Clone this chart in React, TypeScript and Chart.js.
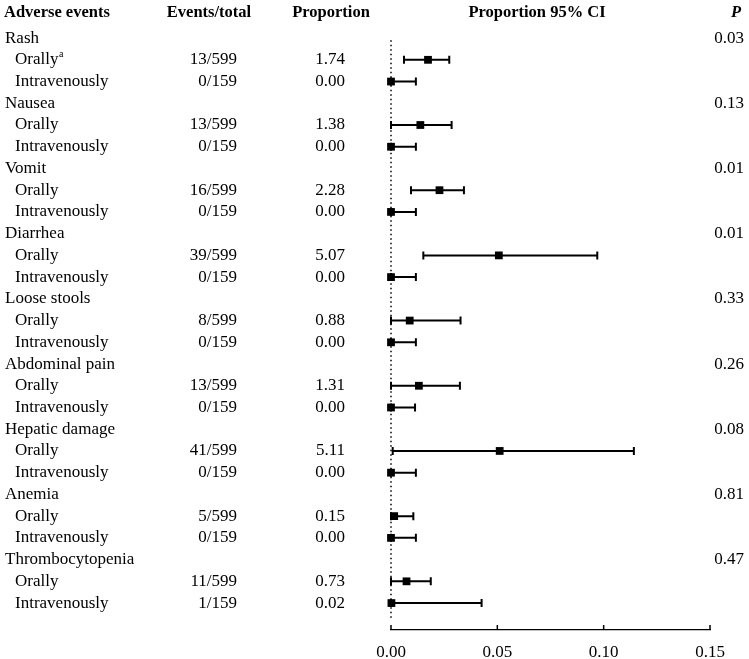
import React, { useEffect, useRef } from "react";
import { Chart, registerables } from "chart.js";

Chart.register(...registerables);

const categories = [
  "Rash",
  "Nausea",
  "Vomit",
  "Diarrhea",
  "Loose stools",
  "Abdominal pain",
  "Hepatic damage",
  "Anemia",
  "Thrombocytopenia",
];
const pValues = ["0.03", "0.13", "0.01", "0.01", "0.33", "0.26", "0.08", "0.81", "0.47"];
const oralEvents = ["13/599", "13/599", "16/599", "39/599", "8/599", "13/599", "41/599", "5/599", "11/599"];
const ivEvents = ["0/159", "0/159", "0/159", "0/159", "0/159", "0/159", "0/159", "0/159", "1/159"];
const oralProp = ["1.74", "1.38", "2.28", "5.07", "0.88", "1.31", "5.11", "0.15", "0.73"];
const ivProp = ["0.00", "0.00", "0.00", "0.00", "0.00", "0.00", "0.00", "0.00", "0.02"];
const oralEst = [0.0174, 0.0138, 0.0228, 0.0507, 0.0088, 0.0131, 0.0511, 0.0015, 0.0073];
const oralLow = [0.0061, 0.0, 0.0094, 0.0152, 0.0, 0.0, 0.0008, 0.0, 0.0];
const oralHigh = [0.0274, 0.0285, 0.0343, 0.097, 0.0327, 0.0324, 0.1142, 0.0105, 0.0187];
const ivEst = [0, 0, 0, 0, 0, 0, 0, 0, 0.0002];
const ivLow = [0, 0, 0, 0, 0, 0, 0, 0, 0];
const ivHigh = [0.0117, 0.0117, 0.0117, 0.0117, 0.0117, 0.0113, 0.0117, 0.0117, 0.0426];
const xTicks = [0, 0.05, 0.1, 0.15];

const FONT = '"Liberation Serif", "Times New Roman", serif';
const SIZE = 17;
const HSIZE = 16.5;

export default function App() {
  const ref = useRef<HTMLCanvasElement>(null);

  useEffect(() => {
    const canvas = ref.current;
    if (!canvas) return;

    const points: { x: number; y: number }[] = [];
    const bars: { lo: number; hi: number; row: number }[] = [];
    categories.forEach((_, i) => {
      points.push({ x: oralEst[i], y: 3 * i + 1 });
      points.push({ x: ivEst[i], y: 3 * i + 2 });
      bars.push({ lo: oralLow[i], hi: oralHigh[i], row: 3 * i + 1 });
      bars.push({ lo: ivLow[i], hi: ivHigh[i], row: 3 * i + 2 });
    });

    const forest = {
      id: "forest",
      beforeDatasetsDraw(chart: any) {
        const { ctx, scales } = chart;
        const x = scales.x;
        const y = scales.y;
        ctx.save();
        const x0 = x.getPixelForValue(0);
        ctx.strokeStyle = "#000";
        ctx.lineWidth = 1.5;
        ctx.setLineDash([1.5, 3]);
        ctx.beginPath();
        ctx.moveTo(x0, y.getPixelForValue(0.1));
        ctx.lineTo(x0, y.getPixelForValue(26.8));
        ctx.stroke();
        ctx.setLineDash([]);
        ctx.lineWidth = 2;
        bars.forEach((b) => {
          const py = y.getPixelForValue(b.row);
          const pl = x.getPixelForValue(b.lo);
          const ph = x.getPixelForValue(b.hi);
          ctx.beginPath();
          ctx.moveTo(pl, py);
          ctx.lineTo(ph, py);
          ctx.moveTo(pl, py - 4);
          ctx.lineTo(pl, py + 4);
          ctx.moveTo(ph, py - 4);
          ctx.lineTo(ph, py + 4);
          ctx.stroke();
        });
        ctx.restore();
      },
      afterDraw(chart: any) {
        const { ctx, scales, chartArea } = chart;
        const x = scales.x;
        const y = scales.y;
        ctx.save();
        ctx.strokeStyle = "#000";
        ctx.lineWidth = 1.5;
        x.ticks.forEach((t: any) => {
          const px = x.getPixelForValue(t.value);
          ctx.beginPath();
          ctx.moveTo(px, chartArea.bottom);
          ctx.lineTo(px, chartArea.bottom - 5);
          ctx.stroke();
        });

        ctx.fillStyle = "#000";
        ctx.textBaseline = "middle";
        const hy = y.getPixelForValue(-1.17);
        ctx.font = `bold ${HSIZE}px ${FONT}`;
        ctx.textAlign = "left";
        ctx.fillText("Adverse events", 4, hy);
        ctx.textAlign = "center";
        ctx.fillText("Events/total", 209, hy);
        ctx.fillText("Proportion", 331, hy);
        ctx.fillText("Proportion 95% CI", 537, hy);
        ctx.font = `italic bold ${HSIZE}px ${FONT}`;
        ctx.textAlign = "right";
        ctx.fillText("P", 741, hy);

        ctx.font = `${SIZE}px ${FONT}`;
        categories.forEach((c, i) => {
          const yc = y.getPixelForValue(3 * i);
          const yo = y.getPixelForValue(3 * i + 1);
          const yv = y.getPixelForValue(3 * i + 2);
          ctx.textAlign = "left";
          ctx.fillText(c, 5, yc);
          ctx.fillText("Orally", 15, yo);
          if (i === 0) {
            const w = ctx.measureText("Orally").width;
            ctx.font = `10px ${FONT}`;
            ctx.fillText("a", 15 + w + 0.5, yo - 5);
            ctx.font = `${SIZE}px ${FONT}`;
          }
          ctx.fillText("Intravenously", 15, yv);
          ctx.textAlign = "right";
          ctx.fillText(oralEvents[i], 237, yo);
          ctx.fillText(ivEvents[i], 237, yv);
          ctx.fillText(oralProp[i], 345, yo);
          ctx.fillText(ivProp[i], 345, yv);
          ctx.fillText(pValues[i], 744, yc);
        });
        ctx.restore();
      },
    };

    const chart = new Chart(canvas, {
      type: "scatter",
      data: {
        datasets: [
          {
            data: points,
            pointStyle: "rect",
            pointRadius: 5.5,
            pointHoverRadius: 5.5,
            borderWidth: 0,
            backgroundColor: "#000",
            borderColor: "#000",
            clip: false,
          } as any,
        ],
      },
      options: {
        responsive: false,
        animation: false,
        devicePixelRatio: 1,
        events: [],
        layout: { padding: { left: 391, right: 39, top: 3.3, bottom: -16 } },
        plugins: { legend: { display: false }, tooltip: { enabled: false } },
        scales: {
          x: {
            type: "linear",
            min: 0,
            max: 0.15,
            afterBuildTicks: (axis: any) => {
              axis.ticks = xTicks.map((v) => ({ value: v }));
            },
            grid: { display: true, drawOnChartArea: false, drawTicks: false },
            border: { display: true, color: "#000", width: 1.2 },
            ticks: {
              padding: 14,
              color: "#000",
              font: { family: FONT, size: SIZE, lineHeight: 1 },
              callback: (v: any) => Number(v).toFixed(2),
              maxRotation: 0,
            },
          },
          y: {
            type: "linear",
            display: false,
            reverse: true,
            min: -1.5,
            max: 27.24,
          },
        },
      },
      plugins: [forest],
    });
    return () => chart.destroy();
  }, []);

  return (
    <canvas
      ref={ref}
      width={749}
      height={659}
      style={{ position: "fixed", left: 0, top: 0, width: 749, height: 659, display: "block" }}
    />
  );
}
